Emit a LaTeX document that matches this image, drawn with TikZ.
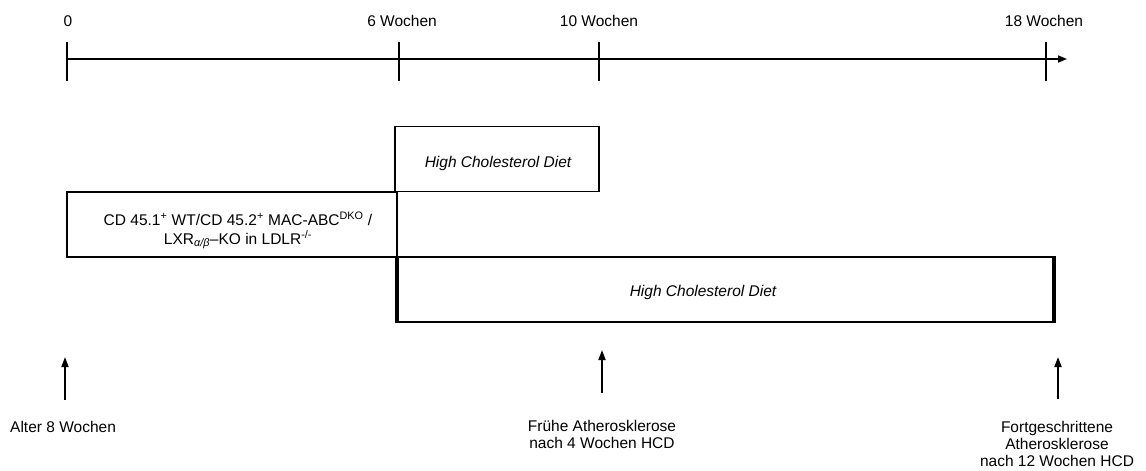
\documentclass[tikz,border=0pt]{standalone}
\usepackage{fontspec}
\setmainfont{Liberation Sans}
\usetikzlibrary{arrows.meta}
\begin{document}
\begin{tikzpicture}[x=1pt,y=-1pt,
  every node/.style={font=\fontsize{15.5}{17}\selectfont, inner sep=0pt},
  tick/.style={line width=2pt},
  axis/.style={line width=1.6pt,-{Triangle[length=9pt,width=7pt]}},
  period/.style={draw, line width=1.3pt, minimum height=65pt},
  thickedge/.style={line width=4.5pt},
  uparrow/.style={line width=1.8pt,-{Triangle[length=10pt,width=7pt]}},
  lbl/.style={anchor=base},
  note/.style={align=center, font=\fontsize{15.5}{17}\selectfont}
]
\useasboundingbox (0,0) rectangle (1146,471);
% timeline
\coordinate (t0) at (67,59);
\coordinate (t6) at (399,59);
\coordinate (t10) at (599,59);
\coordinate (t18) at (1046,59);
\coordinate (tend) at (1067,59);
\draw[axis] (t0) -- (tend);
\foreach \t in {t0,t6,t10,t18}{
  \draw[tick] ([yshift=-22pt]\t) -- ([yshift=17pt]\t);
}
\node[lbl] (l0) at (68,27) {0};
\node[lbl] (l6) at (402,27) {6 Wochen};
\node[lbl] (l10) at (599,27) {10 Wochen};
\node[lbl] (l18) at (1044,27) {18 Wochen};
% boxes
\node[period, minimum width=204pt] (hcd1) at (497,159) {};
\node[period, minimum width=330pt] (ko) at (232,224.5) {};
\node[period, minimum width=657pt] (hcd2) at (726,289.5) {};
\draw[thickedge] (hcd2.north west) -- (hcd2.south west);
\draw[thickedge] ([xshift=-1pt]hcd2.north east) -- ([xshift=-1pt]hcd2.south east);
\node[lbl] (hcd1t) at (498,167) {\itshape High Cholesterol Diet};
\node[lbl] (hcd2t) at (703,296) {\itshape High Cholesterol Diet};
\node[anchor=base, align=center, font=\fontsize{15.5}{19}\selectfont] (kot) at (238,244)
  {CD 45.1\textsuperscript{+} WT/CD 45.2\textsuperscript{+} MAC-ABC\textsuperscript{DKO} /\\
   LXR\textsubscript{\itshape α/β}–KO in LDLR\textsuperscript{-/-}};
% arrows
\coordinate (a1) at (65,400);
\coordinate (a1e) at (65,357);
\coordinate (a2) at (602,393);
\coordinate (a2e) at (602,350);
\coordinate (a3) at (1058,399);
\coordinate (a3e) at (1058,357);
\draw[uparrow] (a1) -- (a1e);
\draw[uparrow] (a2) -- (a2e);
\draw[uparrow] (a3) -- (a3e);
\node[lbl, anchor=base west] (n1) at (10,432) {Alter 8 Wochen};
\node[note] (n2) at (602,434) {Frühe Atherosklerose\\nach 4 Wochen HCD};
\node[note] (n3) at (1057,443.5) {Fortgeschrittene\\Atherosklerose\\nach 12 Wochen HCD};
\end{tikzpicture}
\end{document}
